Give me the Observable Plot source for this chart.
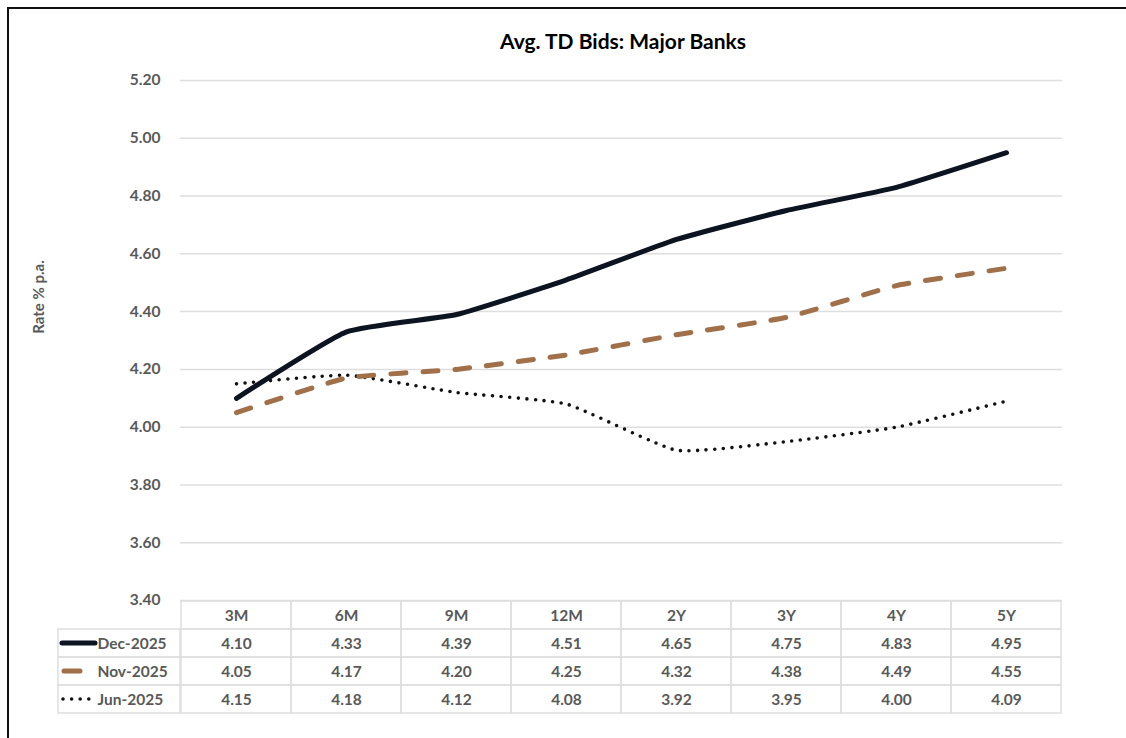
<!DOCTYPE html>
<html>
<head>
<meta charset="utf-8">
<script src="https://cdn.jsdelivr.net/npm/d3@7"></script>
<script src="https://cdn.jsdelivr.net/npm/@observablehq/plot@0.6"></script>
<style>
  html, body { margin: 0; padding: 0; background: #fff; }
  #wrap { position: relative; width: 1126px; height: 738px; overflow: hidden; font-family: Lato, "Open Sans", sans-serif; }
  #frame { position: absolute; left: 7px; top: 7px; width: 1130px; height: 740px; border-left: 2px solid #111; border-top: 2px solid #111; box-sizing: border-box; }
  #title { position: absolute; left: 0; width: 1246px; top: 28px; text-align: center; font-weight: bold; font-size: 21px; color: #000; }
  #ylabel { position: absolute; left: 38px; top: 297px; transform: translate(-50%, -50%) rotate(-90deg); white-space: nowrap; font-weight: bold; font-size: 15px; color: #595959; }
  .abs { position: absolute; left: 0; }
</style>
</head>
<body>
<div id="wrap">
  <div id="frame"></div>
  <div id="title">Avg. TD Bids: Major Banks</div>
  <div id="ylabel">Rate % p.a.</div>
  <div id="chart" class="abs" style="top:0"></div>
  <div id="table" class="abs" style="top:598px"></div>
</div>
<script>
const tenors = ["3M", "6M", "9M", "12M", "2Y", "3Y", "4Y", "5Y"];
const seriesNames = ["Dec-2025", "Nov-2025", "Jun-2025"];
const dec2025 = [4.10, 4.33, 4.39, 4.51, 4.65, 4.75, 4.83, 4.95];
const nov2025 = [4.05, 4.17, 4.20, 4.25, 4.32, 4.38, 4.49, 4.55];
const jun2025 = [4.15, 4.18, 4.12, 4.08, 3.92, 3.95, 4.00, 4.09];
const yTicks = [3.40, 3.60, 3.80, 4.00, 4.20, 4.40, 4.60, 4.80, 5.00, 5.20];

const seriesValues = [dec2025, nov2025, jun2025];
const rows = seriesNames.flatMap((s, i) => tenors.map((t, j) => ({series: s, tenor: t, value: seriesValues[i][j]})));

const styles = {
  "Dec-2025": {stroke: "#0d1421", strokeWidth: 5, dash: null, cap: "round"},
  "Nov-2025": {stroke: "#a0704a", strokeWidth: 5, dash: "15,17", cap: "round"},
  "Jun-2025": {stroke: "#111111", strokeWidth: 3.6, dash: "0,8.6", cap: "round"}
};

const W = 1126, ML = 180, MR = 64;
const font = {fontFamily: "Lato, 'Open Sans', sans-serif"};
const smooth = d3.curveCardinal.tension(0.55);

const lineMarks = seriesNames.slice().reverse().map(s => Plot.line(rows.filter(d => d.series === s), {
  x: "tenor", y: "value", curve: smooth,
  stroke: styles[s].stroke, strokeWidth: styles[s].strokeWidth,
  strokeDasharray: styles[s].dash, strokeLinecap: styles[s].cap, strokeLinejoin: "round"
}));

const chart = Plot.plot({
  width: W, height: 738,
  marginLeft: ML, marginRight: MR, marginTop: 80, marginBottom: 138,
  style: {...font, background: "transparent", overflow: "visible"},
  x: {type: "point", domain: tenors, padding: 0.5, axis: null},
  y: {domain: [3.4, 5.2], axis: null},
  marks: [
    Plot.gridY(yTicks, {stroke: "#dedede", strokeOpacity: 1, strokeWidth: 1.5}),
    Plot.axisY(yTicks, {tickSize: 0, tickPadding: 20, tickFormat: d => d.toFixed(2), fontSize: 15.5, fontWeight: "bold", fill: "#595959", label: null}),
    ...lineMarks
  ]
});
document.getElementById("chart").appendChild(chart);

// Data table under the chart
const tableRows = ["", ...seriesNames];
const headerCells = tenors.map(t => ({row: "", tenor: t, label: t}));
const valueCells = rows.map(d => ({row: d.series, tenor: d.tenor, label: d.value.toFixed(2)}));
const cells = [...headerCells, ...valueCells];

const table = Plot.plot({
  width: W, height: 120,
  marginLeft: ML, marginRight: MR, marginTop: 2, marginBottom: 4,
  style: {...font, background: "transparent", overflow: "visible"},
  x: {type: "band", domain: tenors, padding: 0, axis: null},
  y: {type: "band", domain: tableRows, padding: 0, axis: null},
  marks: [
    Plot.cell(cells, {x: "tenor", y: "row", fill: "none", stroke: "#dedede", strokeWidth: 1.5}),
    Plot.text(cells, {x: "tenor", y: "row", text: "label", fill: "#595959", fontWeight: "bold", fontSize: 15.5, dy: 1}),
    Plot.text(seriesNames, {y: d => d, text: d => d, frameAnchor: "left", textAnchor: "start", dx: -83, dy: 1, fill: "#595959", fontWeight: "bold", fontSize: 15.5})
  ]
});
document.getElementById("table").appendChild(table);

// legend column border and swatches, positioned with the table's y scale
const ys = table.scale("y");
const bw = ys.bandwidth;
const svg = d3.select(table);
const g = svg.append("g");
seriesNames.forEach(s => {
  const top = ys.apply(s);
  g.append("rect").attr("x", 58).attr("y", top).attr("width", ML - 58).attr("height", bw)
    .attr("fill", "none").attr("stroke", "#dedede").attr("stroke-width", 1.5);
  const st = styles[s];
  const cy = top + bw / 2;
  let x1 = 62, x2 = 95;
  if (s === "Nov-2025") { x1 = 64; x2 = 80; }
  if (s === "Jun-2025") { x1 = 63; x2 = 93; }
  g.append("line").attr("x1", x1).attr("x2", x2).attr("y1", cy).attr("y2", cy)
    .attr("stroke", st.stroke).attr("stroke-width", st.strokeWidth)
    .attr("stroke-linecap", st.cap)
    .attr("stroke-dasharray", s === "Jun-2025" ? "0,8.6" : null);
});
</script>
</body>
</html>
